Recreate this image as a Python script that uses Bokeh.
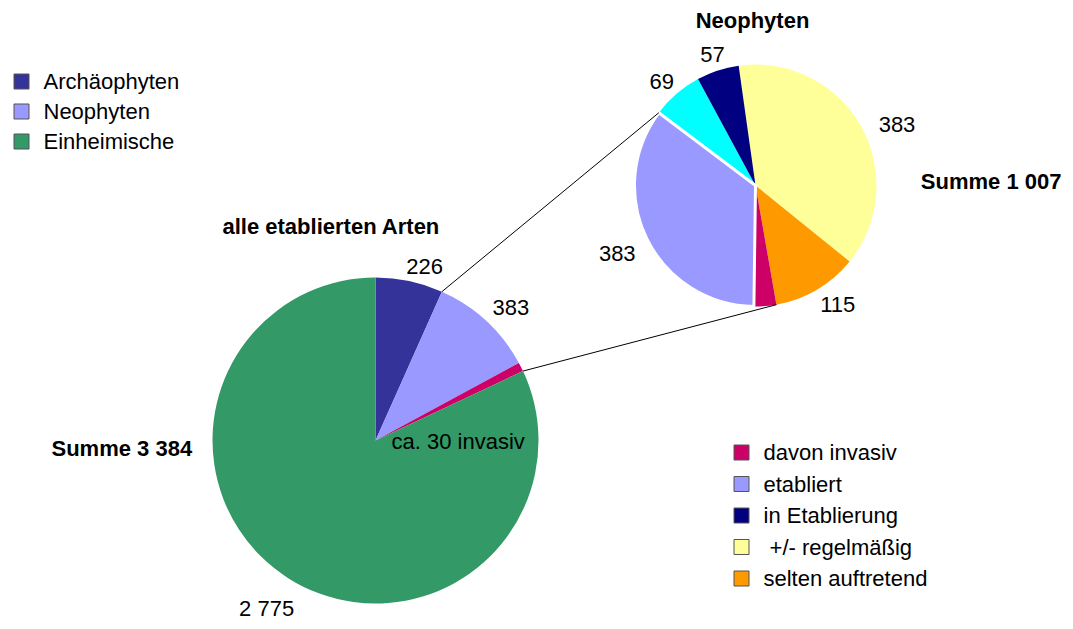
import math
from bokeh.plotting import figure
from bokeh.models import Range1d
from bokeh.core.properties import value
from bokeh.embed import file_html
from bokeh.resources import INLINE

# ---------------- data ----------------
all_categories = ["Archäophyten", "Neophyten", "davon invasiv", "Einheimische"]
all_values = [226, 353, 30, 2775]
all_labels = ["226", "383", "", "2 775"]
all_title = "alle etablierten Arten"
all_total = "Summe 3 384"
invasive_note = "ca. 30 invasiv"

neo_categories = ["+/- regelmäßig", "selten auftretend", "davon invasiv",
                  "etabliert", "unbeständig", "in Etablierung"]
neo_values = [383, 115, 30, 353, 69, 57]
neo_labels = ["383", "115", "", "383", "69", "57"]
neo_title = "Neophyten"
neo_total = "Summe 1 007"

legend1_categories = ["Archäophyten", "Neophyten", "Einheimische"]
legend2_categories = ["davon invasiv", "etabliert", "in Etablierung",
                      "+/- regelmäßig", "selten auftretend"]
legend2_texts = ["davon invasiv", "etabliert", "in Etablierung",
                 "\u00a0+/- regelmäßig", "selten auftretend"]

# ---------------- style / layout ----------------
colors = {
    "Archäophyten": "#333399",
    "Neophyten": "#9999FF",
    "Einheimische": "#339966",
    "davon invasiv": "#CC0066",
    "etabliert": "#9999FF",
    "in Etablierung": "#000080",
    "+/- regelmäßig": "#FFFF99",
    "selten auftretend": "#FF9900",
    "unbeständig": "#00FFFF",
}
FONT = value("Liberation Sans")
FS = "22px"

BIG_C = (375, -440)
BIG_R = 163
BIG_START = 0.0          # degrees clockwise from 12 o'clock
BIG_LABEL_DIST = [181, 190, 0, 200]
BIG_LABEL_NUDGE = [3.7, 2.6, 0, 0.6]

SMALL_C = (755, -185)
SMALL_R = 121
SMALL_START = -8.0
SMALL_LABEL_DIST = [154, 145, 0, 154, 140, 138]
SMALL_LABEL_NUDGE = [6.3, -4, 0, 0, -1.3, 0]

W, H = 1065, 621


def cum_angles(vals, start):
    tot = float(sum(vals))
    out = [start]
    for v in vals:
        out.append(out[-1] + 360.0 * v / tot)
    return out


def to_std(deg_cw_from_top):
    return math.radians(90.0 - deg_cw_from_top)


def polar(c, r, deg):
    t = math.radians(deg)
    return c[0] + r * math.sin(t), c[1] + r * math.cos(t)


p = figure(width=W, height=H, x_range=Range1d(0, W), y_range=Range1d(-H, 0),
           output_backend="svg", toolbar_location=None, min_border=0,
           x_axis_type=None, y_axis_type=None)
p.grid.visible = False
p.outline_line_color = None
p.background_fill_color = "white"
p.border_fill_color = "white"

# ---- big pie ----
big_a = cum_angles(all_values, BIG_START)
p.wedge(x=[BIG_C[0]] * len(all_values), y=[BIG_C[1]] * len(all_values), radius=BIG_R,
        start_angle=[to_std(a) for a in big_a[:-1]],
        end_angle=[to_std(a) for a in big_a[1:]],
        direction="clock",
        fill_color=[colors[c] for c in all_categories], line_color=None)

# ---- small pie ----
small_a = cum_angles(neo_values, SMALL_START)
lc = ["white" if c == "etabliert" else None for c in neo_categories]
order = [i for i in range(len(neo_values)) if neo_categories[i] != "etabliert"] + \
        [i for i in range(len(neo_values)) if neo_categories[i] == "etabliert"]
for i in order:
    p.wedge(x=SMALL_C[0], y=SMALL_C[1], radius=SMALL_R,
            start_angle=to_std(small_a[i]), end_angle=to_std(small_a[i + 1]),
            direction="clock", fill_color=colors[neo_categories[i]],
            line_color=lc[i], line_width=3 if lc[i] else 0)

# ---- connector lines ----
i_neo = all_categories.index("Neophyten")
i_inv = all_categories.index("davon invasiv")
j_etab = neo_categories.index("etabliert")
j_inv = neo_categories.index("davon invasiv")
b1 = polar(BIG_C, BIG_R, big_a[i_neo])
b2 = polar(BIG_C, BIG_R, big_a[i_inv + 1])
s1 = polar(SMALL_C, SMALL_R, small_a[j_etab + 1])
s2 = polar(SMALL_C, SMALL_R, small_a[j_inv])
p.segment(x0=[b1[0], b2[0]], y0=[b1[1], b2[1]], x1=[s1[0], s2[0]], y1=[s1[1], s2[1]],
          line_color="black", line_width=1)

# ---- slice labels ----
lx, ly, lt = [], [], []
for i, lab in enumerate(all_labels):
    if lab:
        mid = (big_a[i] + big_a[i + 1]) / 2 + BIG_LABEL_NUDGE[i]
        x, y = polar(BIG_C, BIG_LABEL_DIST[i], mid)
        lx.append(x); ly.append(y); lt.append(lab)
for i, lab in enumerate(neo_labels):
    if lab:
        mid = (small_a[i] + small_a[i + 1]) / 2 + SMALL_LABEL_NUDGE[i]
        x, y = polar(SMALL_C, SMALL_LABEL_DIST[i], mid)
        lx.append(x); ly.append(y); lt.append(lab)
p.text(x=lx, y=ly, text=lt, text_align="center", text_baseline="middle",
       text_font=FONT, text_font_size=FS, text_color="black")

# ---- titles and sums ----
p.text(x=[752], y=[-20], text=[neo_title], text_align="center", text_baseline="middle",
       text_font=FONT, text_font_size=FS, text_font_style="bold", text_color="black")
p.text(x=[1061], y=[-181], text=[neo_total], text_align="right", text_baseline="middle",
       text_font=FONT, text_font_size=FS, text_font_style="bold", text_color="black")
p.text(x=[222, 51], y=[-226, -448], text=[all_title, all_total],
       text_align="left", text_baseline="middle",
       text_font=FONT, text_font_size=FS, text_font_style="bold", text_color="black")
p.text(x=[391], y=[-441], text=[invasive_note], text_align="left", text_baseline="middle",
       text_font=FONT, text_font_size=FS, text_color="black")

# ---- legends ----
L1_X, L1_Y0, L1_STEP, L1_TX = 21, -81, -30, 43
L2_X, L2_Y0, L2_STEP, L2_TX = 741, -452, -31.5, 763
SQ = 15

y1 = [L1_Y0 + k * L1_STEP for k in range(len(legend1_categories))]
p.rect(x=[L1_X] * len(y1), y=y1, width=SQ, height=SQ, width_units="screen", height_units="screen",
       fill_color=[colors[c] for c in legend1_categories], line_color="#555555", line_width=1)
p.text(x=[L1_TX] * len(y1), y=y1, text=legend1_categories, text_align="left", text_baseline="middle",
       text_font=FONT, text_font_size=FS, text_color="black")

y2 = [L2_Y0 + k * L2_STEP for k in range(len(legend2_categories))]
p.rect(x=[L2_X] * len(y2), y=y2, width=SQ, height=SQ, width_units="screen", height_units="screen",
       fill_color=[colors[c] for c in legend2_categories], line_color="#555555", line_width=1)
p.text(x=[L2_TX] * len(y2), y=y2, text=legend2_texts, text_align="left", text_baseline="middle",
       text_font=FONT, text_font_size=FS, text_color="black")

open("out.html", "w").write(file_html(p, INLINE))
